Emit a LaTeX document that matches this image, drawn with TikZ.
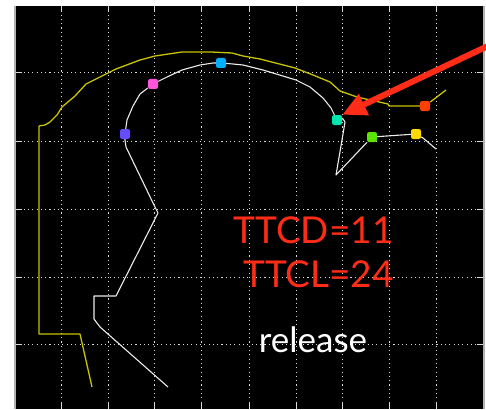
\documentclass[tikz,border=0pt]{standalone}
\usepackage{fontspec}
\setmainfont{Lato}
\usetikzlibrary{arrows.meta}
\definecolor{traceyellow}{RGB}{200,196,0}
\definecolor{markred}{RGB}{255,44,24}

\begin{document}
\begin{tikzpicture}[x=1pt,y=-1pt,
	gridline/.style={gray!30,line width=1pt,dash pattern=on 1.1pt off 3.2pt},
	gridtick/.style={gray!30,line width=1pt},
	marker/.style={rectangle,rounded corners=2.2pt,minimum size=10pt,inner sep=0pt},
	outline/.style={traceyellow,line width=1.3pt,line join=round},
	trace/.style={gray!15,line width=1.1pt,line join=round},
	bigtext/.style={markred,font=\fontsize{37}{44}\selectfont,anchor=base,inner sep=0pt}
]
	\useasboundingbox (0,0) rectangle (486,409);
	\fill[white] (0,0) rectangle (486,409);
	\fill[black] (15,6) rectangle (484,409);

	% dotted grid, solid ticks at the borders
	\foreach \gx in {61,108,154,201,249,296,342,389,436} {
		\draw[gridline] (\gx,6) -- (\gx,409);
		\draw[gridtick] (\gx,6) -- ++(0,6);
		\draw[gridtick] (\gx,409) -- ++(0,-6);
	}
	\foreach \gy in {73,141,209,277,344} {
		\draw[gridline] (15,\gy) -- (484,\gy);
		\draw[gridtick] (15,\gy) -- ++(7,0);
		\draw[gridtick] (484,\gy) -- ++(-7,0);
	}
	\draw[gray!60,line width=1.5pt] (15,6) -- (15,409);
	\draw[gray!60,line width=1.5pt] (484,6) -- (484,409);

	% tracked points
	\node[marker,fill={rgb,255:red,100;green,76;blue,255}] (dot1) at (125,134) {};
	\node[marker,fill={rgb,255:red,255;green,85;blue,220}] (dot2) at (153,84) {};
	\node[marker,fill={rgb,255:red,0;green,176;blue,255}] (dot3) at (221,63) {};
	\node[marker,fill={rgb,255:red,0;green,230;blue,176}] (dot4) at (337,120) {};
	\node[marker,fill={rgb,255:red,90;green,230;blue,0}] (dot5) at (372,137) {};
	\node[marker,fill={rgb,255:red,255;green,218;blue,0}] (dot6) at (416,134) {};
	\node[marker,fill={rgb,255:red,255;green,64;blue,0}] (dot7) at (425,106) {};

	% outer contour
	\draw[outline] (92,387) -- (80,334) -- (39,334) -- (39,126) -- (45,125) -- (50,122)
	  -- (57,115) -- (62,107) -- (75,96) -- (86,84) -- (100,77) -- (116,69) -- (140,60)
	  -- (155,56) -- (182,52) -- (211,52) -- (232,53) -- (243,56) -- (260,59) -- (295,68)
	  -- (313,75) -- (330,82) -- (340,91) -- (357,97) -- (388,104) -- (389,106) -- (dot7);
	\draw[outline] (dot7) -- (446,90);

	% skeleton line
	\draw[trace] (168,387) -- (100,327) -- (94,319) -- (94,296) -- (116,296) -- (158,213)
	  -- (154,205) -- (126,147) -- (125,140) -- (dot1);
	\draw[trace] (dot1) -- (127,120) -- (133,106) -- (140,94) -- (dot2);
	\draw[trace] (dot2) -- (167,77) -- (182,70) -- (200,65) -- (213,63) -- (dot3);
	\draw[trace] (dot3) -- (233,64) -- (243,65) -- (263,70) -- (296,80) -- (310,87)
	  -- (323,98) -- (331,108) -- (dot4);
	\draw[trace] (dot4) -- (343,119) -- (345,122) -- (342,140) -- (336,175) -- (dot5);
	\draw[trace] (dot5) -- (dot6);
	\draw[trace] (dot6) -- (423,138) -- (436,149);

	% pointer
	\coordinate (arrowtail) at (490,45);
	\draw[markred,line width=6pt,-{Triangle[length=24pt,width=22pt]}] (arrowtail) -- (dot4.north east);

	% labels
	\node[bigtext] (ttcd) at (313.5,243) {TTCD=11};
	\node[bigtext] (ttcl) at (318.5,287) {TTCL=24};
	\node[white,font=\fontsize{35}{42}\selectfont,anchor=base,inner sep=0pt] (release) at (313,352) {release};
\end{tikzpicture}
\end{document}
